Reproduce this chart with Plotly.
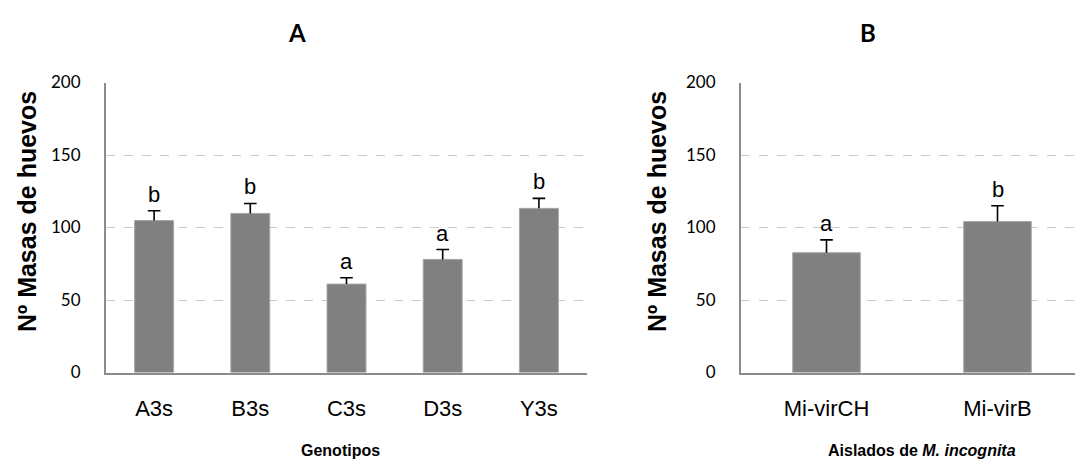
import plotly.graph_objects as go

# Panel A: egg masses per genotype
genotipos = ["A3s", "B3s", "C3s", "D3s", "Y3s"]
masas_a = [104.8, 109.7, 61.0, 78.0, 113.2]
error_a = [6.8, 6.9, 4.3, 6.8, 6.9]
letras_a = ["b", "b", "a", "a", "b"]

# Panel B: egg masses per M. incognita isolate
aislados = ["Mi-virCH", "Mi-virB"]
masas_b = [82.6, 104.1]
error_b = [8.9, 10.9]
letras_b = ["a", "b"]

y_ticks = [0, 50, 100, 150, 200]

W, H = 1075, 464
BAR = "#808080"
GRID = "#c8c8c8"
AXIS = "#8c8c8c"
NUM_FONT = dict(family="Lato, Open Sans, sans-serif", size=17, color="#000")
CAT_FONT = dict(family="Liberation Sans, Arial, sans-serif", size=22, color="#000")

fig = go.Figure()


def add_bars(cats, vals, errs, xa, ya, width):
    fig.add_trace(go.Bar(
        x=cats, y=vals, xaxis=xa, yaxis=ya, width=width,
        marker=dict(color=BAR, line=dict(color="#a6a6a6", width=1)),
        showlegend=False, hoverinfo="x+y",
    ))
    # upper-only error bars: a stem from the bar top plus a horizontal cap
    sx, sy = [], []
    for c, v, e in zip(cats, vals, errs):
        sx += [c, c, None]
        sy += [v, v + e, None]
    fig.add_trace(go.Scatter(
        x=sx, y=sy, xaxis=xa, yaxis=ya, mode="lines",
        line=dict(color="#000", width=1.6), showlegend=False, hoverinfo="skip",
    ))
    fig.add_trace(go.Scatter(
        x=cats, y=[v + e for v, e in zip(vals, errs)], xaxis=xa, yaxis=ya,
        mode="markers",
        marker=dict(symbol="line-ew", size=9, line=dict(color="#000", width=1.6)),
        showlegend=False, hoverinfo="skip",
    ))


add_bars(genotipos, masas_a, error_a, "x", "y", 0.405)
add_bars(aislados, masas_b, error_b, "x2", "y2", 0.395)

ydom = [91.5 / H, 381.5 / H]
yaxis_common = dict(
    range=[0, 200], tickvals=y_ticks, showgrid=True, gridcolor=GRID,
    griddash="dash", gridwidth=1, showline=True, linecolor=AXIS, linewidth=2,
    ticks="", tickfont=NUM_FONT, ticklabelstandoff=20, zeroline=False,
    domain=ydom, fixedrange=True, automargin=False,
)
xaxis_common = dict(
    showline=True, linecolor=AXIS, linewidth=2, ticks="", showgrid=False,
    tickfont=CAT_FONT, ticklabelstandoff=15, fixedrange=True, automargin=False,
)

fig.update_layout(
    width=W, height=H, autosize=False,
    margin=dict(l=0, r=0, t=0, b=0, pad=0, autoexpand=False),
    paper_bgcolor="white", plot_bgcolor="white",
    xaxis=dict(xaxis_common, domain=[106 / W, 587 / W], anchor="y",
               range=[-0.5, 4.5]),
    yaxis=dict(yaxis_common, anchor="x"),
    xaxis2=dict(xaxis_common, domain=[741 / W, 1.0], anchor="y2",
                range=[-0.5, -0.5 + 334 / 171]),
    yaxis2=dict(yaxis_common, anchor="x2"),
)

annotations = []


# significance letters above each error bar
def add_letters(cats, vals, errs, letters, xr, yr):
    for c, v, e, t in zip(cats, vals, errs, letters):
        annotations.append(dict(
            x=c, y=v + e, xref=xr, yref=yr, text=t, showarrow=False,
            xanchor="center", yanchor="bottom", yshift=2,
            font=dict(family="Liberation Sans, Arial, sans-serif", size=22, color="#000"),
        ))


add_letters(genotipos, masas_a, error_a, letras_a, "x", "y")
add_letters(aislados, masas_b, error_b, letras_b, "x2", "y2")


def paper_text(px, py, text, font, angle=0):
    annotations.append(dict(
        x=px / W, y=1 - py / H, xref="paper", yref="paper", text=text,
        showarrow=False, xanchor="center", yanchor="middle", textangle=angle,
        font=font,
    ))


TITLE_FONT = dict(family="Lato, sans-serif", size=24, color="#000")
paper_text(297, 32, "<b>A</b>", TITLE_FONT)
paper_text(868, 32, "<b>B</b>", TITLE_FONT)

YT_FONT = dict(family="Liberation Sans, Arial, sans-serif", size=25, color="#000")
paper_text(27, 212, "<b>Nº Masas de huevos</b>", YT_FONT, -90)
paper_text(657, 212, "<b>Nº Masas de huevos</b>", YT_FONT, -90)

XT_FONT = dict(family="Liberation Sans, Arial, sans-serif", size=16, color="#000")
paper_text(340, 450, "<b>Genotipos</b>", XT_FONT)
paper_text(922, 450, "<b>Aislados de <i>M. incognita</i></b>", XT_FONT)

fig.update_layout(annotations=annotations)
fig.write_html("out.html")
